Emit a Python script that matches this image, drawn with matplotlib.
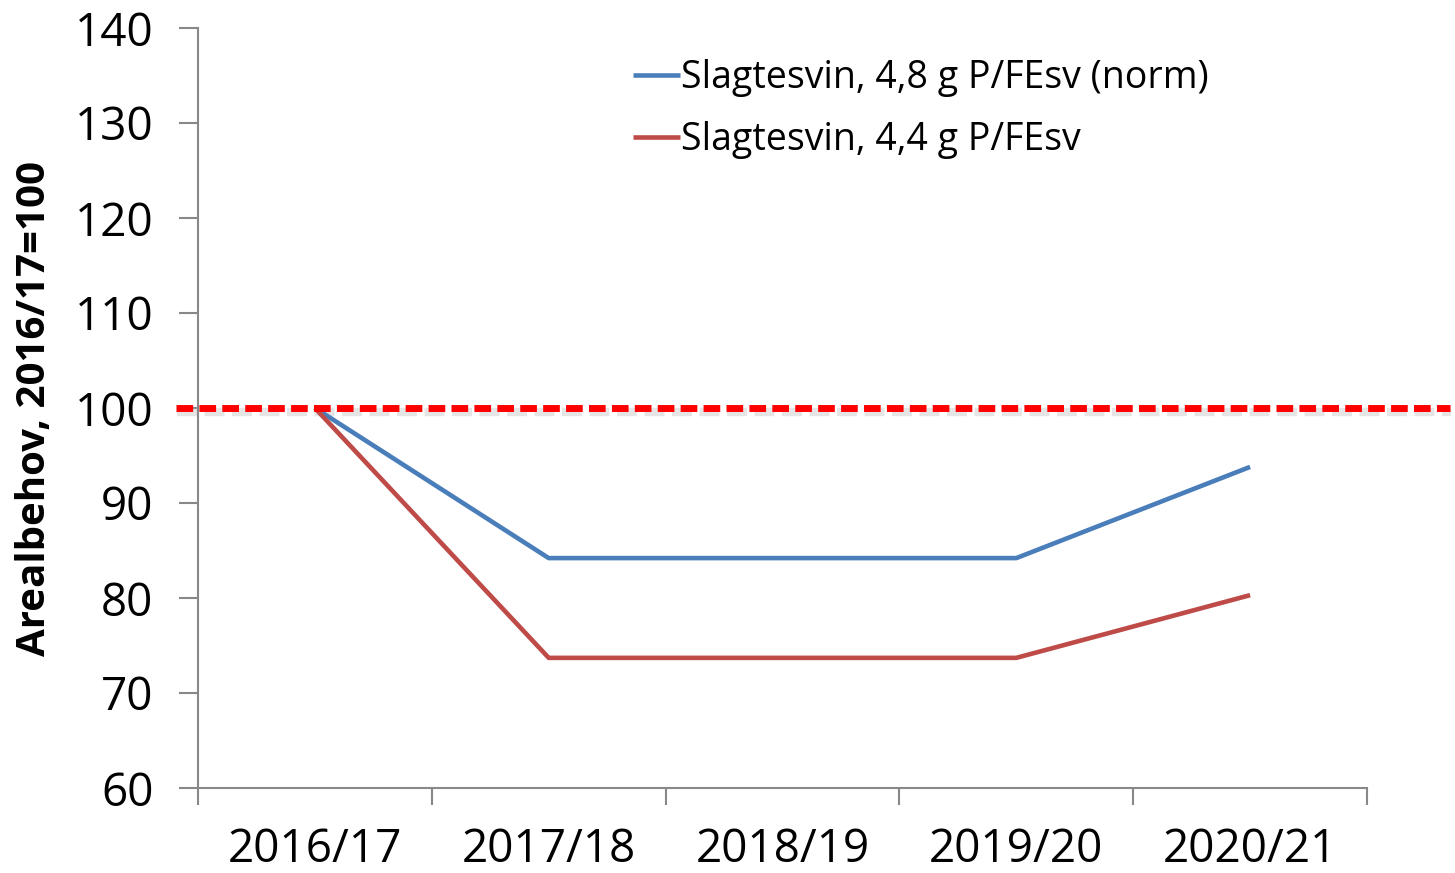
import matplotlib
matplotlib.use("Agg")
import matplotlib.pyplot as plt
import matplotlib.transforms as mtransforms

categories = ["2016/17", "2017/18", "2018/19", "2019/20", "2020/21"]
blue_values = [100, 84.2, 84.2, 84.2, 93.8]
red_values = [100, 73.7, 73.7, 73.7, 80.3]
blue_label = "Slagtesvin, 4,8 g P/FEsv (norm)"
red_label = "Slagtesvin, 4,4 g P/FEsv"
ref_value = 100
yticks = [60, 70, 80, 90, 100, 110, 120, 130, 140]
ylabel = "Arealbehov, 2016/17=100"

plt.rcParams['font.family'] = ['Open Sans', 'DejaVu Sans']

fig = plt.figure(figsize=(14.55, 8.73), dpi=100)
ax = fig.add_axes([198/1455, 1-788/873, (1367-198)/1455, (788-28)/873])

xs = [i + 0.5 for i in range(len(categories))]
ax.plot(xs, blue_values, color="#4A7EBB", lw=3.3, label=blue_label, solid_capstyle='butt', zorder=3)
ax.plot(xs, red_values, color="#BE4B48", lw=3.3, label=red_label, solid_capstyle='butt', zorder=3)

# reference dashed line with shadow
dx0, dx1 = -0.094, 5.355
shadow = mtransforms.offset_copy(ax.transData, fig=fig, x=1, y=-4, units='dots')
ax.plot([dx0, dx1], [ref_value, ref_value], color="#AAAAAA", lw=6, alpha=0.3,
        dashes=(2.4, 0.9), transform=shadow, clip_on=False, zorder=2)
ax.plot([dx0, dx1], [ref_value, ref_value], color="#FF0000", lw=5,
        dashes=(2.4, 0.9), clip_on=False, zorder=4)

ax.set_xlim(0, len(categories))
ax.set_ylim(60, 140)
ax.set_yticks(yticks)
ax.set_xticks(range(len(categories) + 1))
ax.set_xticklabels([])
ax.set_xticks(xs, minor=True)
ax.set_xticklabels(categories, minor=True)
ax.tick_params(axis='x', which='minor', length=0, pad=28, labelsize=33)
ax.tick_params(axis='x', which='major', length=12, width=1.5, color="#888888", direction='out')
ax.tick_params(axis='y', length=14, width=1.5, color="#888888", direction='out', labelsize=33, pad=18)

for s in ['top', 'right']:
    ax.spines[s].set_visible(False)
for s in ['left', 'bottom']:
    ax.spines[s].set_color("#888888")
    ax.spines[s].set_linewidth(1.5)

ax.set_ylabel(ylabel, fontsize=29, fontweight='bold')
ax.yaxis.set_label_coords(-0.123, 0.5)

leg = ax.legend(loc='upper left', bbox_to_anchor=(0.343, 1.003), frameon=False,
                fontsize=27, handlelength=1.25, handletextpad=0.05, labelspacing=0.62)

fig.savefig("out.png", dpi=100)
